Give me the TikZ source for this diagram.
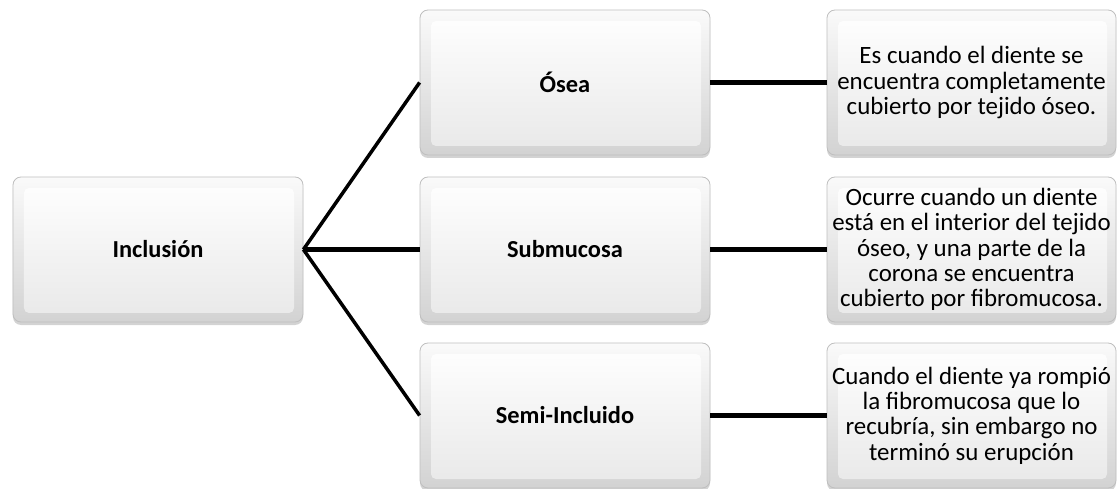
\documentclass[tikz,border=0pt]{standalone}
\usepackage{fontspec}
\setmainfont{Carlito}
\usetikzlibrary{shadows}
\begin{document}
\begin{tikzpicture}[x=1bp,y=-1bp,
  box/.style={rounded corners=8bp, minimum width=290bp, minimum height=145bp,
    inner sep=1bp, align=center, draw=gray!50, line width=0.8bp,
    top color=gray!4, bottom color=gray!35,
    drop shadow={shadow xshift=0bp, shadow yshift=-3bp, opacity=0.35, fill=gray},
    font=\fontsize{25}{25.5}\selectfont,
    path picture={\shade[top color=white, bottom color=gray!18, rounded corners=5bp]
      ([xshift=11bp,yshift=-11bp]path picture bounding box.north west) rectangle
      ([xshift=-9bp,yshift=9bp]path picture bounding box.south east);}},
  head/.style={box, font=\fontsize{24.5}{25.5}\selectfont\bfseries},
  link/.style={line width=3.5bp, black},
  hlink/.style={line width=5.5bp, black}]
\useasboundingbox (0,0) rectangle (1118,489);
\node[head] (incl) at (158,249.5) {Inclusión};
\node[head] (osea) at (565,82.5) {Ósea};
\node[head] (sub)  at (565,249.5) {Submucosa};
\node[head] (semi) at (565,415.5) {Semi-Incluido};
\node[box, minimum width=289bp] (d1) at (971.5,82.5) {Es cuando el diente se\\encuentra completamente\\cubierto por tejido óseo.};
\node[box, minimum width=289bp] (d2) at (971.5,249.5) {Ocurre cuando un diente\\está en el interior del tejido\\óseo, y una parte de la\\corona se encuentra\\cubierto por fibromucosa.};
\node[box, minimum width=289bp] (d3) at (971.5,415.5) {Cuando el diente ya rompió\\la fibromucosa que lo\\recubría, sin embargo no\\terminó su erupción};
\draw[link] (incl.east) -- (osea.west);
\draw[hlink] (incl.east) -- (sub.west);
\draw[link] (incl.east) -- (semi.west);
\draw[hlink] (osea.east) -- (d1.west);
\draw[hlink] (sub.east) -- (d2.west);
\draw[hlink] (semi.east) -- (d3.west);
\end{tikzpicture}
\end{document}
